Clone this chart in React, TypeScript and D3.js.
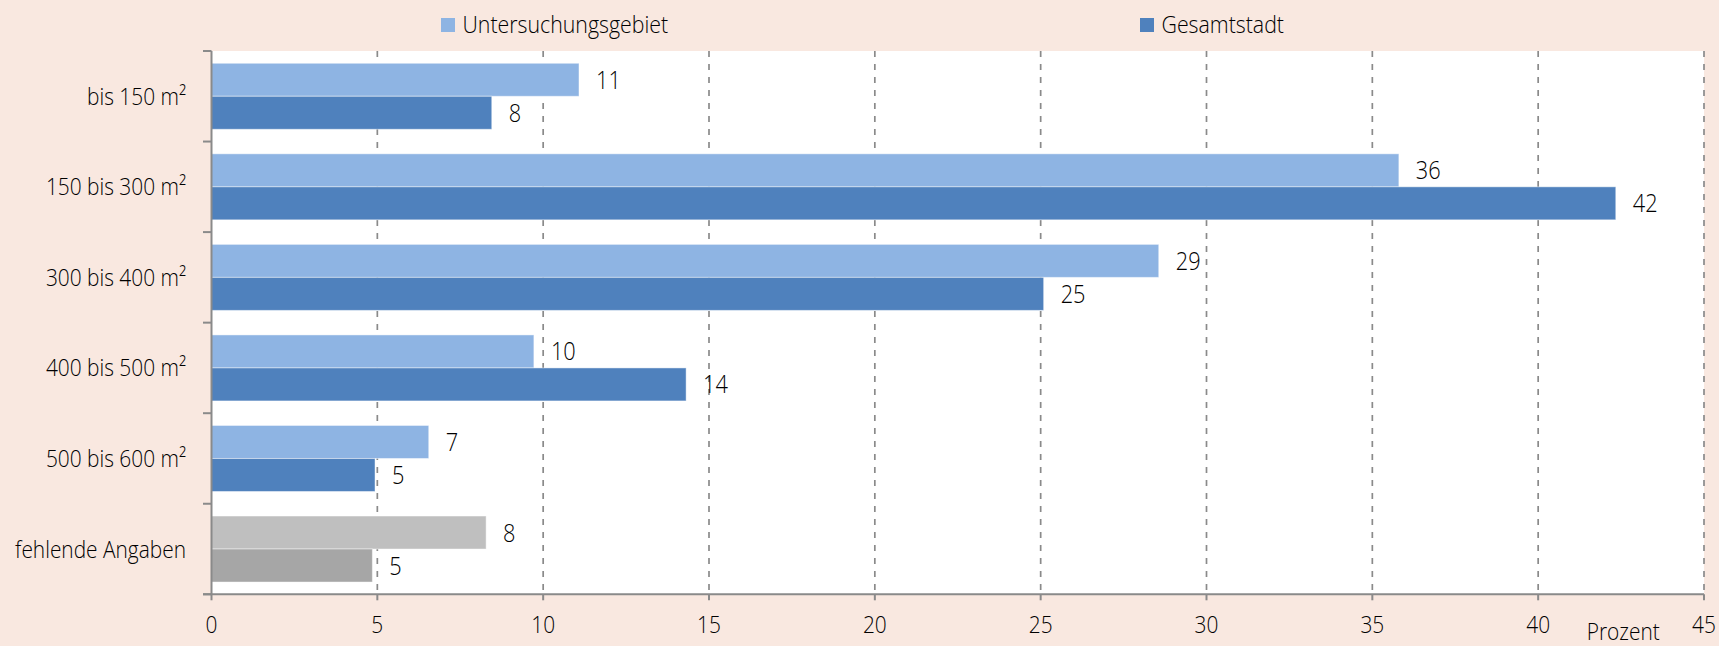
import React, { useEffect, useLayoutEffect, useRef, useState } from "react";
import * as d3 from "d3";

const categories = [
  "bis 150 m²",
  "150 bis 300 m²",
  "300 bis 400 m²",
  "400 bis 500 m²",
  "500 bis 600 m²",
  "fehlende Angaben",
];
const seriesNames = ["Untersuchungsgebiet", "Gesamtstadt"];
const untersuchungsgebiet = [11.08, 35.8, 28.56, 9.72, 6.55, 8.28];
const gesamtstadt = [8.45, 42.34, 25.09, 14.31, 4.93, 4.85];
const xTicks = [0, 5, 10, 15, 20, 25, 30, 35, 40, 45];
const unitLabel = "Prozent";

const W = 1719;
const H = 646;
const PLOT = { left: 211.5, right: 1704, top: 51, bottom: 594.3 };
const BG = "#F9E8E0";
const COLORS = ["#8EB4E3", "#4F81BD"];
const GREYS = ["#BFBFBF", "#A6A6A6"];
const FONT = "'Open Sans', sans-serif";
const TEXT = "#000000";
const AXIS = "#8a8a8a";

// reference: "fehlende Angaben" at 24px is 171px wide
const CAL_TEXT = "fehlende Angaben";
const CAL_SIZE = 24;
const CAL_WIDTH = 171;

function CText(props: {
  x: number;
  y: number;
  sx: number;
  size: number;
  anchor?: "start" | "middle" | "end";
  children: React.ReactNode;
}) {
  const { x, y, sx, size, anchor = "start", children } = props;
  return (
    <text
      transform={`translate(${x},${y}) scale(${sx},1)`}
      textAnchor={anchor}
      fontSize={size}
      fill={TEXT}
    >
      {children}
    </text>
  );
}

export default function App() {
  const calRef = useRef<SVGTextElement | null>(null);
  const [sx, setSx] = useState(0.8);

  useEffect(() => {
    document.body.style.margin = "0";
  }, []);

  useLayoutEffect(() => {
    if (calRef.current) {
      const w = calRef.current.getComputedTextLength();
      if (w > 0) setSx(CAL_WIDTH / w);
    }
  }, []);

  const x = d3.scaleLinear().domain([0, 45]).range([PLOT.left, PLOT.right]);
  const y = d3.scaleBand<string>().domain(categories).range([PLOT.top, PLOT.bottom]).padding(0);
  const sub = d3
    .scaleBand<string>()
    .domain(seriesNames)
    .range([0, y.bandwidth()])
    .paddingInner(0)
    .paddingOuter(0.372);
  const values = [untersuchungsgebiet, gesamtstadt];
  const fmt = d3.format(".0f");
  const boundaries = d3.range(categories.length + 1).map((i) => PLOT.top + i * y.step());

  return (
    <svg
      width={W}
      height={H}
      style={{ position: "absolute", left: 0, top: 0, display: "block" }}
      fontFamily={FONT}
      fontWeight={300}
    >
      <rect x={0} y={0} width={W} height={H} fill={BG} />
      <text ref={calRef} x={-1000} y={-1000} fontSize={CAL_SIZE} visibility="hidden">
        {CAL_TEXT}
      </text>
      <rect
        x={PLOT.left}
        y={PLOT.top}
        width={PLOT.right - PLOT.left}
        height={PLOT.bottom - PLOT.top}
        fill="#ffffff"
      />
      {/* gridlines */}
      {xTicks
        .filter((t) => t > 0)
        .map((t) => (
          <line
            key={"g" + t}
            x1={x(t)}
            x2={x(t)}
            y1={PLOT.top}
            y2={PLOT.bottom}
            stroke={AXIS}
            strokeWidth={1.7}
            strokeDasharray="6,7"
          />
        ))}
      {/* bars */}
      {categories.map((c, i) =>
        seriesNames.map((s, j) => {
          const v = values[j][i];
          const fill = c === "fehlende Angaben" ? GREYS[j] : COLORS[j];
          const y0 = (y(c) as number) + (sub(s) as number);
          const h = sub.bandwidth();
          return (
            <g key={c + s}>
              <rect
                x={x(0)}
                y={y0}
                width={x(v) - x(0)}
                height={h}
                fill={fill}
                stroke="rgba(255,255,255,0.45)"
                strokeWidth={1}
              />
              <CText x={x(v) + 17} y={y0 + h / 2 + 9} sx={sx} size={25}>
                {fmt(v)}
              </CText>
            </g>
          );
        })
      )}
      {/* axes */}
      <line x1={PLOT.left} x2={PLOT.left} y1={PLOT.top} y2={PLOT.bottom} stroke={AXIS} strokeWidth={2} />
      <line x1={PLOT.left - 8.5} x2={PLOT.right} y1={PLOT.bottom} y2={PLOT.bottom} stroke={AXIS} strokeWidth={2} />
      {boundaries.map((b, i) => (
        <line key={"yt" + i} x1={PLOT.left - 8.5} x2={PLOT.left} y1={b} y2={b} stroke={AXIS} strokeWidth={2} />
      ))}
      {xTicks.map((t) => (
        <g key={"xt" + t}>
          <line x1={x(t)} x2={x(t)} y1={PLOT.bottom} y2={PLOT.bottom + 6} stroke={AXIS} strokeWidth={2} />
          <CText x={x(t)} y={633} sx={sx} size={24} anchor="middle">
            {t}
          </CText>
        </g>
      ))}
      <CText x={1586.7} y={639.5} sx={sx} size={24}>
        {unitLabel}
      </CText>
      {/* category labels */}
      {categories.map((c) => (
        <CText
          key={"cl" + c}
          x={186}
          y={(y(c) as number) + y.bandwidth() / 2 + 8.5}
          sx={sx}
          size={24}
          anchor="end"
        >
          {c}
        </CText>
      ))}
      {/* legend */}
      {seriesNames.map((s, j) => {
        const lx = j === 0 ? 441 : 1140;
        return (
          <g key={"lg" + s}>
            <rect x={lx} y={18} width={14} height={14} fill={COLORS[j]} />
            <CText x={lx + 21.5} y={32.8} sx={sx} size={24.5}>
              {s}
            </CText>
          </g>
        );
      })}
    </svg>
  );
}
